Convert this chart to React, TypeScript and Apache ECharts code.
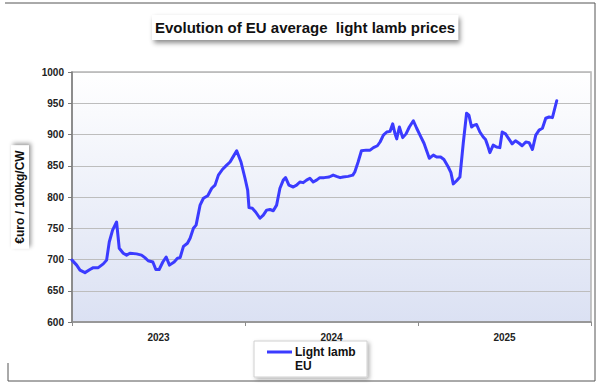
import React, { useEffect, useRef } from "react";
import * as echarts from "echarts";

const titleText = "Evolution of EU average  light lamb prices";
const yAxisTitle = "€uro / 100kg/CW";
const years = ["2023", "2024", "2025"];
const yTicks = { min: 600, max: 1000, step: 50 };
const seriesName = "Light lamb EU";
const legendLines = ["Light lamb", "EU"];

// week index counted from the first week of 2023 (52 weeks per year)
const weeks = [
  0, 1.4, 2.4, 3.9, 5.4, 6.4, 7.9, 9.4, 10.4, 11.2, 12.2, 13.4, 14.2, 15.4, 16.4, 17.4, 19.4, 20.9, 21.9, 22.9,
  24.3, 25.2, 26.2, 27.3, 28.3, 29.3, 30.7, 31.7, 32.5, 33.5, 34.7, 35.5, 36.5, 37.3, 38.5, 39.5, 40.8, 42, 43, 44,
  45.2, 46.5, 47.5, 48.5, 49.5, 50.8, 52, 52.8, 53.2, 54.2, 55.2, 56.5, 57.5, 58.5, 59.5, 60.5, 61.5, 62.5, 63.5, 64.2,
  65.2, 66.5, 67.5, 68.5, 69.5, 70.5, 71.5, 72.5, 73.5, 74.5, 75.8, 77.3, 78.5, 79.5, 80.6, 81.5, 83, 84.4, 85, 86,
  87, 88.4, 89.6, 90.6, 91.8, 92.6, 93.6, 94.6, 95.6, 96.4, 97.1, 97.6, 98.4, 99.4, 100.4, 101.4, 102.6, 103.6, 104.6, 105.8,
  106.6, 107.4, 108.6, 109.6, 110.8, 111.8, 113.1, 113.9, 114.6, 115.6, 116.6, 117.6, 118.6, 119.3, 120.1, 120.9, 121.6, 122.6, 123.6, 124.3,
  124.9, 125.6, 126.6, 127.6, 128.6, 129.3, 130.3, 131.3, 132.3, 133.3, 134.4, 135.3, 136.4, 137.4, 138.4, 139.4, 140.4, 141.4, 142.4, 143.4,
  144.4, 145.7,
];
const prices = [
  699, 691, 683, 679, 684, 687, 687, 693, 699, 728, 747, 760, 718, 710, 707, 710, 709, 707, 703, 698,
  696, 684, 684, 696, 704, 691, 696, 702, 703, 721, 726, 734, 750, 755, 787, 798, 802, 814, 819, 835,
  844, 851, 856, 865, 874, 856, 830, 811, 783, 782, 776, 766, 771, 779, 780, 778, 787, 814, 827, 831,
  819, 816, 819, 824, 823, 827, 830, 824, 827, 831, 831, 832, 835, 833, 831, 832, 833, 835, 840, 856,
  874, 875, 875, 879, 882, 888, 899, 904, 905, 917, 901, 893, 912, 895, 901, 912, 922, 910, 899, 886,
  874, 862, 867, 864, 864, 860, 848, 839, 821, 826, 832, 886, 934, 931, 912, 915, 916, 904, 896, 892,
  883, 871, 883, 880, 879, 904, 901, 893, 885, 890, 886, 882, 888, 887, 876, 899, 907, 910, 926, 928,
  927, 954,
];

const FONT = "'Liberation Sans', Arial, sans-serif";
const LINE_COLOR = "#3b3bff";

export default function App() {
  const ref = useRef<HTMLDivElement>(null);

  useEffect(() => {
    if (!ref.current) return;
    const chart = echarts.init(ref.current, null, { renderer: "svg" });
    const data = weeks.map((w, i) => [w, prices[i]]);
    const totalWeeks = years.length * 52;

    chart.setOption({
      animation: false,
      backgroundColor: "#ffffff",
      title: {
        text: titleText,
        left: 152,
        top: 15,
        padding: [5, 3, 5, 3],
        backgroundColor: "#ffffff",
        shadowBlur: 5,
        shadowColor: "rgba(0,0,0,0.45)",
        shadowOffsetX: 2,
        shadowOffsetY: 3,
        textStyle: { fontFamily: FONT, fontSize: 15, fontWeight: "bold", color: "#111" },
      },
      grid: {
        left: 72,
        top: 72,
        right: 9,
        bottom: 61,
        show: true,
        borderColor: "#b4b4b4",
        borderWidth: 1.5,
        backgroundColor: new echarts.graphic.LinearGradient(0, 0, 0, 1, [
          { offset: 0, color: "#ffffff" },
          { offset: 1, color: "#dbe1f3" },
        ]),
      },
      xAxis: [
        {
          type: "category",
          data: years,
          position: "bottom",
          boundaryGap: true,
          axisLine: { lineStyle: { color: "#8c8c8c", width: 1.5 } },
          axisTick: { show: true, length: 4, alignWithLabel: false, lineStyle: { color: "#8c8c8c" } },
          axisLabel: { fontFamily: FONT, fontSize: 10, fontWeight: "bold", color: "#222", margin: 10 },
          splitLine: { show: false },
        },
        {
          type: "value",
          min: 0,
          max: totalWeeks,
          position: "top",
          show: false,
          splitLine: { show: false },
        },
      ],
      yAxis: {
        type: "value",
        min: yTicks.min,
        max: yTicks.max,
        interval: yTicks.step,
        name: yAxisTitle,
        nameLocation: "middle",
        nameRotate: 90,
        nameGap: 43,
        nameTextStyle: {
          fontFamily: FONT,
          fontSize: 12,
          fontWeight: "bold",
          color: "#111",
          backgroundColor: "#ffffff",
          padding: [3, 5, 3, 5],
          shadowBlur: 4,
          shadowColor: "rgba(0,0,0,0.4)",
          shadowOffsetX: 2,
          shadowOffsetY: 2,
        },
        axisLine: { show: true, lineStyle: { color: "#7a7a7a", width: 1.5 } },
        axisTick: { show: true, length: 4, lineStyle: { color: "#7a7a7a" } },
        axisLabel: {
          fontFamily: FONT,
          fontSize: 10,
          fontWeight: "bold",
          color: "#222",
          margin: 8,
          formatter: (v: number) => String(v),
        },
        splitLine: { lineStyle: { color: "#bdbdbd", width: 1.2 } },
      },
      series: [
        {
          name: seriesName,
          type: "line",
          xAxisIndex: 1,
          data,
          showSymbol: false,
          symbol: "none",
          lineStyle: { color: LINE_COLOR, width: 3, join: "round", cap: "round" },
          itemStyle: { color: LINE_COLOR },
        },
      ],
      graphic: [
        { type: "line", shape: { x1: 5, y1: 3, x2: 595, y2: 3 }, style: { stroke: "#555", lineWidth: 1 } },
        { type: "line", shape: { x1: 595, y1: 3, x2: 595, y2: 381 }, style: { stroke: "#555", lineWidth: 1 } },
        { type: "line", shape: { x1: 8, y1: 381, x2: 595, y2: 381 }, style: { stroke: "#555", lineWidth: 1 } },
        { type: "line", shape: { x1: 8, y1: 363, x2: 8, y2: 381 }, style: { stroke: "#555", lineWidth: 1 } },
        {
          type: "rect",
          shape: { x: 254, y: 341, width: 113, height: 36 },
          style: {
            fill: "#ffffff",
            stroke: "#d0d0d0",
            lineWidth: 1,
            shadowBlur: 4,
            shadowColor: "rgba(0,0,0,0.3)",
            shadowOffsetX: 2,
            shadowOffsetY: 2,
          },
        },
        {
          type: "line",
          shape: { x1: 267, y1: 352, x2: 292, y2: 352 },
          style: { stroke: LINE_COLOR, lineWidth: 3 },
        },
        {
          type: "text",
          x: 295,
          y: 352,
          style: {
            text: legendLines[0],
            fontFamily: FONT,
            fontSize: 12,
            fontWeight: "bold",
            fill: "#111",
            verticalAlign: "middle",
          },
        },
        {
          type: "text",
          x: 295,
          y: 366,
          style: {
            text: legendLines[1],
            fontFamily: FONT,
            fontSize: 12,
            fontWeight: "bold",
            fill: "#111",
            verticalAlign: "middle",
          },
        },
      ],
    });

    return () => chart.dispose();
  }, []);

  return (
    <div
      ref={ref}
      style={{ position: "fixed", left: 0, top: 0, width: 600, height: 383, background: "#fff" }}
    />
  );
}
